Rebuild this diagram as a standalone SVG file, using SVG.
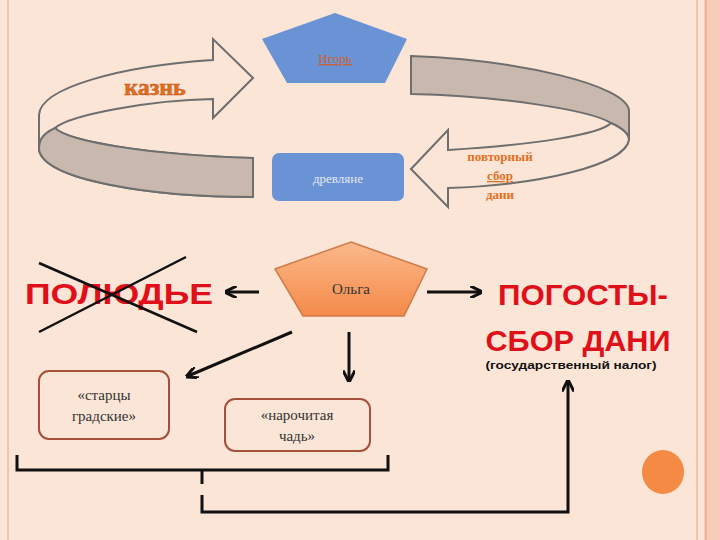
<svg xmlns="http://www.w3.org/2000/svg" width="720" height="540" viewBox="0 0 720 540">
<defs>
<style>
.ring{fill:#fbe5d6;stroke:#6e6e6e;stroke-width:2}
.band{fill:#c9b8ad;stroke:#6e6e6e;stroke-width:2}
.ser{font-family:"Liberation Serif",serif}
.big{font-family:"Liberation Sans",Arial,sans-serif;font-weight:bold;fill:#e0101a;font-size:30px}
.or{font-family:"Liberation Serif",serif;font-weight:bold;fill:#e0701f}
.ln{stroke:#111;stroke-width:3;fill:none}
.box{fill:#fbe5d6;stroke:#a4503c;stroke-width:2}
</style>
<marker id="ah" viewBox="0 0 10 10" refX="8" refY="5" markerWidth="4" markerHeight="4" orient="auto"><path d="M0,0 L10,5 L0,10" fill="none" stroke="#111" stroke-width="2.5"/></marker>
<linearGradient id="og" x1="0" y1="0" x2="0" y2="1"><stop offset="0" stop-color="#fbb98a"/><stop offset="1" stop-color="#f48a4a"/></linearGradient>
</defs>
<rect width="720" height="540" fill="#fbe5d6"/>
<line x1="8" y1="0" x2="8" y2="540" stroke="#efb9a2" stroke-width="1.5"/>
<line x1="697" y1="0" x2="697" y2="540" stroke="#efb9a2" stroke-width="1.5"/>
<rect x="704" y="0" width="16" height="540" fill="#f6cdb8"/>
<line x1="706" y1="0" x2="706" y2="540" stroke="#efa88a" stroke-width="1.5"/>
<g id="left-arrow">
<path class="ring" d="M253,78 L213,39 L213,60 C120,66 40,88 39,115 L39,150 C45,180 150,197 253,197 L253,158 C150,155 60,140 55,128 C70,115 150,100 213,99 L213,118 Z"/>
<path class="band" d="M55,128 C40,135 39,142 39,150 C45,180 150,197 253,197 L253,158 C150,155 70,142 55,128 Z"/>
<text class="or" x="155" y="95" font-size="24" text-anchor="middle" stroke="#c05010" stroke-width="0.5">казнь</text>
</g>
<g id="right-arrow">
<path class="band" d="M411,56 C520,60 625,85 629,110 L629,140 C628,132 620,127 611,123 C590,110 500,96 411,94 Z"/>
<path class="ring" d="M411,169 L448,130 L448,150 C530,145 600,135 611,123 C622,128 629,134 629,140 C625,165 540,185 448,188 L448,207 Z"/>
<text class="or" font-size="13" text-anchor="middle"><tspan x="500" y="161">повторный</tspan><tspan x="500" y="180" text-decoration="underline">сбор</tspan><tspan x="500" y="199">дани</tspan></text>
</g>
<g id="igor">
<polygon points="335,13 407,39 385,83 287,83 262,39" fill="#6a93d6"/>
<text class="ser" x="335" y="63" font-size="13" fill="#d0602a" text-anchor="middle" text-decoration="underline">Игорь</text>
</g>
<g id="drevlyane">
<rect x="272" y="153" width="132" height="48" rx="7" fill="#6a93d6"/>
<text class="ser" x="338" y="183" font-size="13" fill="#e8e8f0" text-anchor="middle">древляне</text>
</g>
<g id="olga">
<polygon points="351,242 427,269 404,316 303,316 275,269" fill="url(#og)" stroke="#d07a48" stroke-width="1.5"/>
<text class="ser" x="351" y="294" font-size="15" fill="#333" text-anchor="middle">Ольга</text>
</g>
<g id="polyudye">
<text class="big" x="119" y="304" text-anchor="middle" textLength="188" lengthAdjust="spacingAndGlyphs">ПОЛЮДЬЕ</text>
<line x1="39" y1="263" x2="197" y2="332" stroke="#111" stroke-width="2.5"/>
<line x1="186" y1="257" x2="39" y2="332" stroke="#111" stroke-width="2.5"/>
</g>
<g id="pogosty">
<text class="big" x="583" y="305" text-anchor="middle" textLength="170" lengthAdjust="spacingAndGlyphs">ПОГОСТЫ-</text>
<text class="big" x="578" y="351" text-anchor="middle" textLength="185" lengthAdjust="spacingAndGlyphs">СБОР ДАНИ</text>
<text x="571" y="369" font-family="Liberation Sans,Arial,sans-serif" font-weight="bold" font-size="11" fill="#111" text-anchor="middle" textLength="171" lengthAdjust="spacingAndGlyphs">(государственный налог)</text>
</g>
<g id="startsy">
<rect class="box" x="39" y="371" width="130" height="68" rx="10"/>
<text class="ser" font-size="15" fill="#333" text-anchor="middle"><tspan x="104" y="400">«старцы</tspan><tspan x="104" y="421">градские»</tspan></text>
</g>
<g id="narochitaya">
<rect class="box" x="225" y="399" width="145" height="52" rx="10"/>
<text class="ser" font-size="15" fill="#333" text-anchor="middle"><tspan x="297" y="420">«нарочитая</tspan><tspan x="297" y="441">чадь»</tspan></text>
</g>
<g id="circle"><ellipse cx="663" cy="472" rx="21" ry="22" fill="#f58a45"/></g>
<g id="connectors">
<line class="ln" x1="259" y1="292" x2="227" y2="292" marker-end="url(#ah)"/>
<line class="ln" x1="427" y1="292" x2="480" y2="292" marker-end="url(#ah)"/>
<line class="ln" x1="292" y1="332" x2="188" y2="376" marker-end="url(#ah)"/>
<line class="ln" x1="349" y1="332" x2="349" y2="380" marker-end="url(#ah)"/>
<polyline class="ln" points="17,455 17,470 388,470 388,455"/>
<line class="ln" x1="202" y1="470" x2="202" y2="484"/>
<polyline class="ln" points="202,495 202,512 568,512 568,382" marker-end="url(#ah)"/>
</g>
</svg>
